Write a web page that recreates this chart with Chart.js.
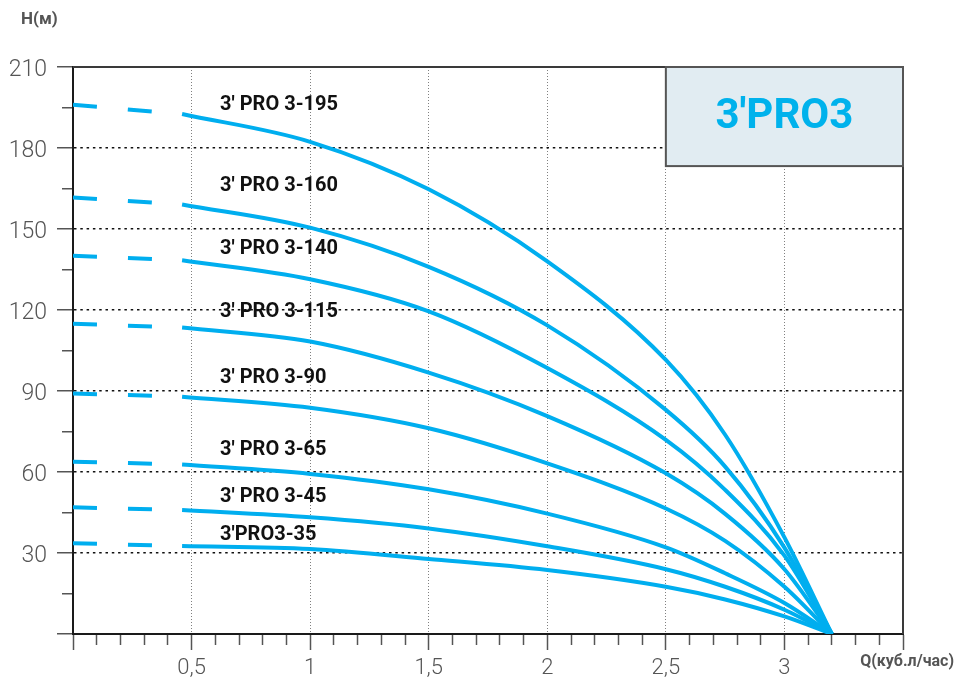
<!DOCTYPE html>
<html>
<head>
<meta charset="utf-8">
<title>3'PRO3</title>
<script src="https://cdn.jsdelivr.net/npm/chart.js@4.4.0/dist/chart.umd.min.js"></script>
<style>
  html, body { margin: 0; padding: 0; background: #fff; }
  #wrap { position: relative; width: 958px; height: 680px; }
</style>
</head>
<body>
<div id="wrap"><canvas id="pumpChart"></canvas></div>
<script>
// flow points (Q, m3/h) of the solid curves
var flow = [0.46, 1, 1.5, 2, 2.5, 2.75, 3, 3.2];

var models = ["3' PRO 3-195", "3' PRO 3-160", "3' PRO 3-140", "3' PRO 3-115",
              "3' PRO 3-90", "3' PRO 3-65", "3' PRO 3-45", "3'PRO3-35"];

// head at Q = 0 (start of the dashed part)
var shutOff = [196, 161.7, 140.1, 114.9, 89.1, 63.8, 46.9, 33.6];

var head195 = [192.6, 182.3, 164.7, 138.0, 101.5, 73.8, 35.8, 0];
var head160 = [159.1, 150.5, 136.0, 114.3, 83.0, 62.0, 32.0, 0];
var head140 = [138.4, 131.4, 119.5, 98.5, 71.9, 53.4, 29.0, 0];
var head115 = [113.5, 108.3, 96.8, 80.7, 59.5, 44.5, 24.0, 0];
var head90  = [87.9, 83.8, 76.2, 63.2, 46.5, 34.5, 17.5, 0];
var head65  = [62.8, 59.3, 53.6, 44.6, 32.1, 22.5, 11.5, 0];
var head45  = [45.9, 43.2, 39.1, 32.5, 24.0, 17.5, 9.0, 0];
var head35  = [32.6, 31.5, 27.8, 23.7, 17.5, 12.8, 6.5, 0];

var heads = [head195, head160, head140, head115, head90, head65, head45, head35];

// where the model names sit (Q of left edge, H of text middle)
var labelQ = 0.62;
var labelH = [195.9, 165.9, 142.6, 119.2, 94.8, 68.0, 50.7, 36.6];

var blue = '#00aeef';

function isMajorX(v) { return Math.abs(v * 2 - Math.round(v * 2)) < 1e-6; }
function isMajorY(v) { return v % 30 === 0; }

var datasets = [];
for (var i = 0; i < heads.length; i++) {
  var pts = [];
  for (var j = 0; j < flow.length; j++) {
    pts.push({x: flow[j], y: heads[i][j]});
  }
  datasets.push({
    label: models[i],
    data: pts,
    borderColor: blue,
    borderWidth: 4,
    pointRadius: 0,
    fill: false,
    cubicInterpolationMode: 'monotone'
  });
  datasets.push({
    label: models[i] + ' (dash)',
    data: [{x: 0, y: shutOff[i]}, {x: flow[0], y: heads[i][0]}],
    borderColor: blue,
    borderWidth: 4,
    borderDash: [24, 31],
    pointRadius: 0,
    fill: false,
    tension: 0
  });
}

var framePlugin = {
  id: 'frame',
  afterDatasetsDraw: function(chart) {
    var ctx = chart.ctx;
    var a = chart.chartArea;
    var xs = chart.scales.x, ys = chart.scales.y;

    ctx.save();
    // top and right edges of the frame
    ctx.strokeStyle = '#3a3a3a';
    ctx.lineWidth = 2;
    ctx.beginPath();
    ctx.moveTo(a.left, a.top);
    ctx.lineTo(a.right, a.top);
    ctx.lineTo(a.right, a.bottom);
    ctx.stroke();

    // model names
    ctx.fillStyle = '#111';
    ctx.font = 'bold 20px Roboto';
    ctx.textAlign = 'left';
    ctx.textBaseline = 'middle';
    for (var k = 0; k < models.length; k++) {
      ctx.fillText(models[k], xs.getPixelForValue(labelQ), ys.getPixelForValue(labelH[k]));
    }

    // series badge in the top right corner
    var bx0 = xs.getPixelForValue(2.5), bx1 = a.right;
    var by0 = a.top, by1 = ys.getPixelForValue(173.3);
    ctx.fillStyle = '#e1ecf2';
    ctx.fillRect(bx0, by0, bx1 - bx0, by1 - by0);
    ctx.strokeStyle = '#555';
    ctx.lineWidth = 2;
    ctx.strokeRect(bx0, by0, bx1 - bx0, by1 - by0);
    ctx.fillStyle = '#00b2ec';
    ctx.font = 'bold 42px Roboto';
    ctx.textAlign = 'center';
    ctx.fillText("3'PRO3", (bx0 + bx1) / 2, (by0 + by1) / 2 + 1);

    // axis names
    ctx.fillStyle = '#555';
    ctx.font = 'bold 17px Roboto';
    ctx.textAlign = 'left';
    ctx.fillText('H(м)', 21, 20);
    ctx.font = 'bold 16px Roboto';
    ctx.textAlign = 'right';
    ctx.fillText('Q(куб.л/час)', 954, 662);
    ctx.restore();
  }
};

var ctx = document.getElementById('pumpChart');

new Chart(ctx, {
  type: 'line',
  data: { datasets: datasets },
  plugins: [framePlugin],
  options: {
    responsive: true,
    maintainAspectRatio: false,
    animation: false,
    layout: { padding: { top: 67, right: 55, left: 0, bottom: 0 } },
    plugins: {
      legend: { display: false },
      tooltip: { enabled: false }
    },
    scales: {
      x: {
        type: 'linear',
        min: 0,
        max: 3.5,
        afterFit: function(scale) { scale.height = 46; },
        border: {
          display: true, color: '#1a1a1a', width: 2,
          dash: function(c) { return c.tick ? [1, 2] : []; }
        },
        grid: {
          color: function(c) {
            var v = c.tick ? c.tick.value : 0;
            return (isMajorX(v) && v > 0 && v < 3.5) ? '#808080' : 'rgba(0,0,0,0)';
          },
          lineWidth: 1,
          tickColor: '#555',
          tickWidth: 1.5,
          tickLength: 16,
          tickBorderDash: function(c) {
            return (c.tick && isMajorX(c.tick.value)) ? [] : [10, 100];
          }
        },
        ticks: {
          stepSize: 0.1,
          autoSkip: false,
          maxRotation: 0,
          padding: 5,
          color: '#555',
          font: { family: 'Roboto', size: 22, weight: 300 },
          callback: function(v) {
            if (!isMajorX(v) || v <= 0 || v >= 3.5) return '';
            return String(Math.round(v * 10) / 10).replace('.', ',');
          }
        }
      },
      y: {
        min: 0,
        max: 210,
        afterFit: function(scale) { scale.width = 73; },
        border: {
          display: true, color: '#1a1a1a', width: 2,
          dash: function(c) { return c.tick ? [2.5, 3.8] : []; }
        },
        grid: {
          color: function(c) {
            var v = c.tick ? c.tick.value : 0;
            return (isMajorY(v) && v > 0 && v < 210) ? '#111' : 'rgba(0,0,0,0)';
          },
          lineWidth: 1.5,
          tickColor: '#555',
          tickWidth: 1.5,
          tickLength: 16,
          tickBorderDash: function(c) {
            return (c.tick && isMajorY(c.tick.value)) ? [] : [0, 5, 10, 100];
          }
        },
        ticks: {
          stepSize: 15,
          autoSkip: false,
          padding: 10,
          labelOffset: 3,
          color: '#555',
          font: { family: 'Roboto', size: 23, weight: 300 },
          callback: function(v) {
            return (isMajorY(v) && v > 0) ? String(v) : '';
          }
        }
      }
    }
  }
});
</script>
</body>
</html>
